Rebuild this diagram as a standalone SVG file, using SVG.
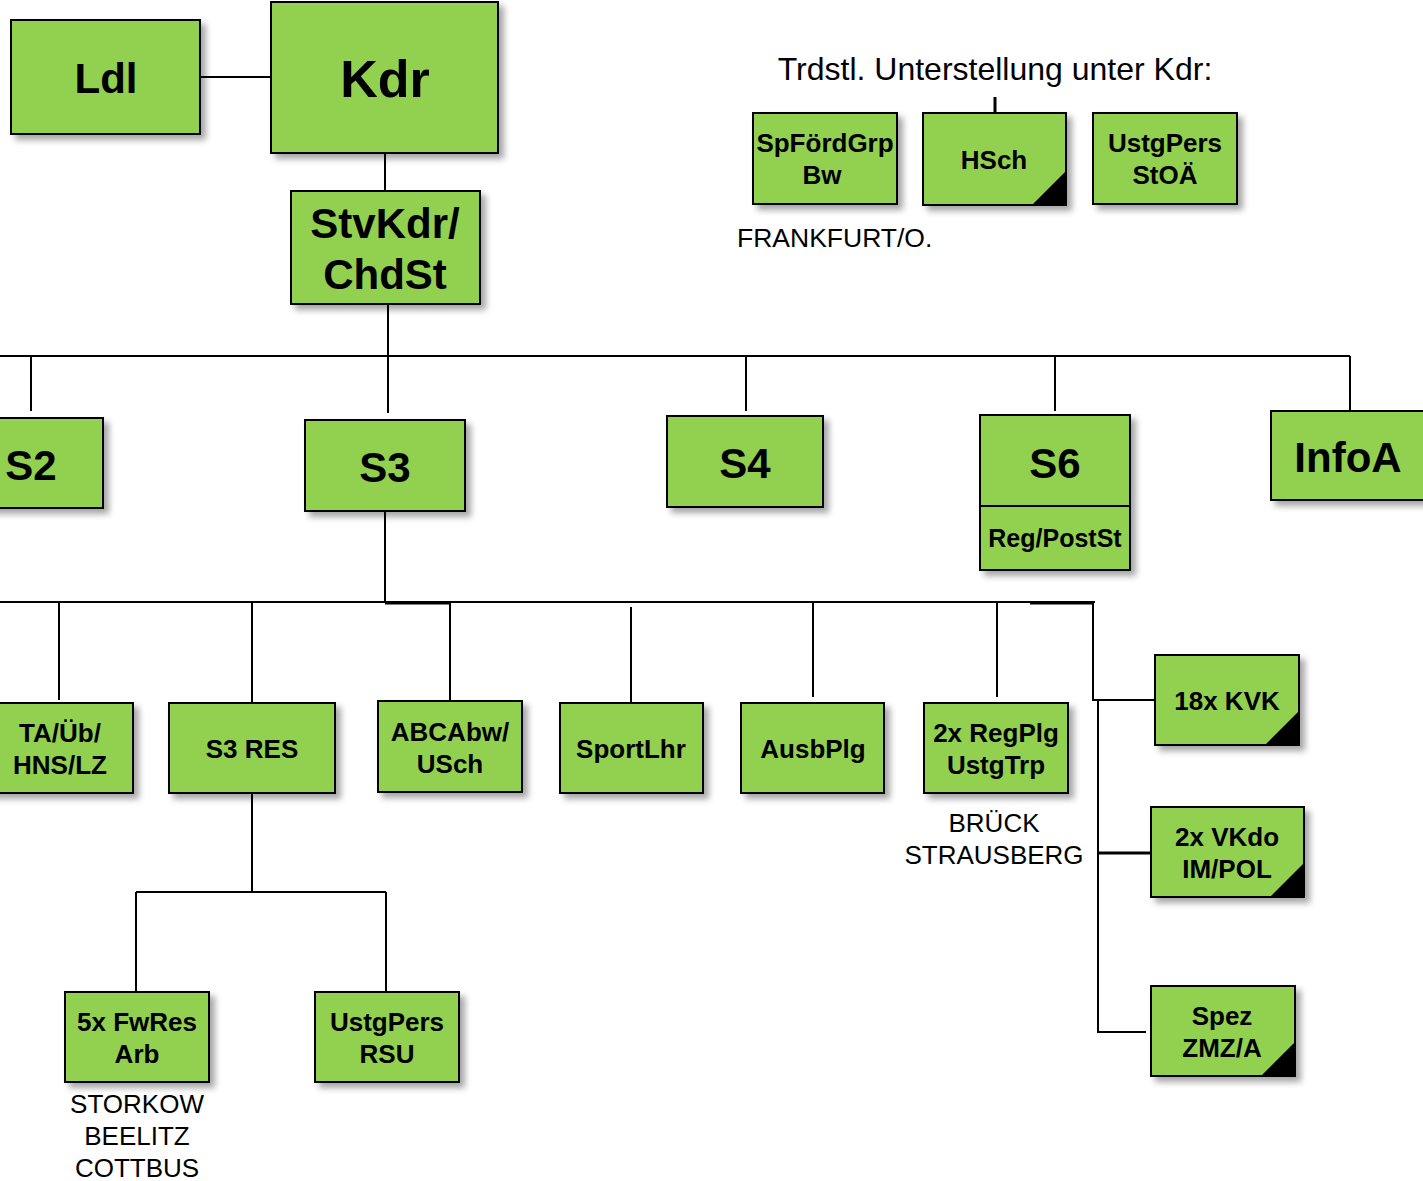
<svg xmlns="http://www.w3.org/2000/svg" width="1423" height="1181" viewBox="0 0 1423 1181">
<defs>
<filter id="sh" x="-10%" y="-10%" width="130%" height="130%">
<feDropShadow dx="5" dy="5" stdDeviation="3" flood-color="#000" flood-opacity="0.35"/>
</filter>
<style>
.box{fill:#92D050;stroke:#000;stroke-width:2;filter:url(#sh)}
.t{font-family:"Liberation Sans",Arial,sans-serif;font-weight:bold;text-anchor:middle;fill:#000}
.xl{font-size:52px}.l{font-size:42px}.m{font-size:26px}
.lab{font-family:"Liberation Sans",Arial,sans-serif;font-size:26px;fill:#000;text-anchor:middle}
.c{stroke:#000;stroke-width:2;fill:none}
.c3{stroke:#000;stroke-width:3;fill:none}
.tri{fill:#000}
</style>
</defs>
<rect width="1423" height="1181" fill="#fff"/>
<g id="connectors">
<path class="c" d="M200 77H271"/>
<path class="c" d="M385 153V191"/>
<path class="c" d="M388 301V356M0 356H1350M31 356V411M388 356V413M746 356V411M1055 356V411M1350 356V411"/>
<path class="c" d="M385 511V603M0 602H1095"/>
<path class="c3" d="M385 603H450M1030 603H1093"/>
<path class="c" d="M59 602V700M252 602V702M450 602V701M631 607V702M813 602V697M997 602V697"/>
<path class="c" d="M1093 602V700H1155M1098 700V1032H1146"/>
<path class="c3" d="M1098 853H1151"/>
<path class="c" d="M252 793V892M136 892H386M136 892V992M386 892V992"/>
<path class="c3" d="M995 97V113"/>
</g>
<g id="Ldl"><rect class="box" x="11" y="20" width="189" height="114"/><text class="t l" x="106" y="93">Ldl</text></g>
<g id="Kdr"><rect class="box" x="271" y="2" width="227" height="151"/><text class="t xl" x="385" y="97">Kdr</text></g>
<g id="StvKdr"><rect class="box" x="291" y="191" width="189" height="113"/><text class="t l" x="385" y="238">StvKdr/</text><text class="t l" x="385" y="289">ChdSt</text></g>
<g id="S2"><rect class="box" x="-10" y="418" width="113" height="90"/><text class="t l" x="31" y="480">S2</text></g>
<g id="S3"><rect class="box" x="305" y="420" width="160" height="91"/><text class="t l" x="385" y="482">S3</text></g>
<g id="S4"><rect class="box" x="667" y="416" width="156" height="91"/><text class="t l" x="745" y="478">S4</text></g>
<g id="S6"><rect class="box" x="980" y="415" width="150" height="155"/><path class="c" d="M980 506H1130"/><text class="t l" x="1055" y="478">S6</text><text class="t" font-size="25" x="1055" y="547">Reg/PostSt</text></g>
<g id="InfoA"><rect class="box" x="1271" y="411" width="162" height="89"/><text class="t l" x="1348" y="472">InfoA</text></g>
<text id="title" x="995" y="80" font-family="Liberation Sans,Arial,sans-serif" font-size="32" text-anchor="middle">Trdstl. Unterstellung unter Kdr:</text>
<g id="SpFoerdGrp"><rect class="box" x="753" y="113" width="144" height="91"/><text class="t m" x="825" y="152">SpFördGrp</text><text class="t m" x="822" y="184">Bw</text></g>
<text class="lab" x="737" y="247" style="text-anchor:start;font-size:26.5px">FRANKFURT/O.</text>
<g id="HSch"><rect class="box" x="923" y="113" width="143" height="92"/><path class="tri" d="M1066 171V205H1032Z"/><text class="t m" x="994" y="169">HSch</text></g>
<g id="UstgPersStOA"><rect class="box" x="1093" y="113" width="144" height="91"/><text class="t m" x="1165" y="152">UstgPers</text><text class="t m" x="1165" y="184">StOÄ</text></g>
<g id="TAUeb"><rect class="box" x="-10" y="703" width="143" height="90"/><text class="t m" x="60" y="742">TA/Üb/</text><text class="t m" x="60" y="774">HNS/LZ</text></g>
<g id="S3RES"><rect class="box" x="169" y="703" width="166" height="90"/><text class="t m" x="252" y="758">S3 RES</text></g>
<g id="ABCAbw"><rect class="box" x="378" y="701" width="144" height="91"/><text class="t m" x="450" y="741">ABCAbw/</text><text class="t m" x="450" y="773">USch</text></g>
<g id="SportLhr"><rect class="box" x="560" y="703" width="143" height="90"/><text class="t m" x="631" y="758">SportLhr</text></g>
<g id="AusbPlg"><rect class="box" x="741" y="703" width="143" height="90"/><text class="t m" x="813" y="758">AusbPlg</text></g>
<g id="RegPlg"><rect class="box" x="924" y="703" width="144" height="90"/><text class="t m" x="996" y="742">2x RegPlg</text><text class="t m" x="996" y="774">UstgTrp</text></g>
<text class="lab" x="994" y="832">BRÜCK</text>
<text class="lab" x="994" y="864">STRAUSBERG</text>
<g id="KVK"><rect class="box" x="1155" y="655" width="144" height="90"/><path class="tri" d="M1299 711V745H1265Z"/><text class="t m" x="1227" y="710">18x KVK</text></g>
<g id="VKdo"><rect class="box" x="1151" y="807" width="153" height="90"/><path class="tri" d="M1304 863V897H1270Z"/><text class="t m" x="1227" y="846">2x VKdo</text><text class="t m" x="1227" y="878">IM/POL</text></g>
<g id="Spez"><rect class="box" x="1151" y="986" width="144" height="90"/><path class="tri" d="M1295 1042V1076H1261Z"/><text class="t m" x="1222" y="1025">Spez</text><text class="t m" x="1222" y="1057">ZMZ/A</text></g>
<g id="FwRes"><rect class="box" x="65" y="992" width="144" height="90"/><text class="t m" x="137" y="1031">5x FwRes</text><text class="t m" x="137" y="1063">Arb</text></g>
<text class="lab" x="137" y="1113">STORKOW</text>
<text class="lab" x="137" y="1145">BEELITZ</text>
<text class="lab" x="137" y="1177">COTTBUS</text>
<g id="UstgPersRSU"><rect class="box" x="315" y="992" width="144" height="90"/><text class="t m" x="387" y="1031">UstgPers</text><text class="t m" x="387" y="1063">RSU</text></g>
</svg>
